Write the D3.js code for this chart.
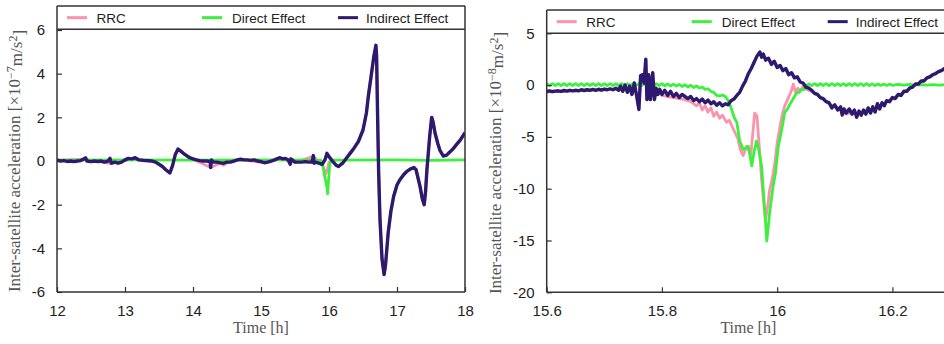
<!DOCTYPE html>
<html>
<head>
<meta charset="utf-8">
<script src="https://cdn.jsdelivr.net/npm/d3@7"></script>
<style>
  body { margin: 0; background: #fff; }
  svg { display: block; }
</style>
</head>
<body>
<svg id="chart" width="944" height="344"></svg>
<script>
// ---- data ----
const seriesNames = ["RRC", "Direct Effect", "Indirect Effect"];
const seriesColors = ["#fb93ac", "#3ef03e", "#2d1a6e"];

// left panel: 12h - 18h, units 1e-7 m/s^2
const leftTicksX = [12, 13, 14, 15, 16, 17, 18];
const leftTicksY = [-6, -4, -2, 0, 2, 4, 6];

const leftIndirect = [
  [12.00,0.05],[12.05,0.0],[12.10,0.02],[12.15,-0.02],[12.20,0.0],[12.25,-0.03],[12.30,0.0],[12.35,0.02],
  [12.40,0.1],[12.42,0.15],[12.44,0.0],[12.50,-0.03],[12.55,0.0],[12.60,-0.02],[12.65,0.0],[12.70,-0.05],
  [12.75,0.0],[12.78,0.12],[12.80,-0.1],[12.85,-0.05],[12.90,-0.1],[12.95,-0.05],[13.00,0.05],[13.05,0.12],
  [13.10,0.1],[13.15,0.15],[13.20,0.05],[13.30,0.02],[13.40,0.0],[13.45,-0.05],[13.50,-0.15],[13.55,-0.25],
  [13.60,-0.4],[13.66,-0.55],[13.70,-0.2],[13.74,0.3],[13.78,0.55],[13.82,0.45],[13.88,0.3],[13.95,0.15],
  [14.00,0.1],[14.05,0.05],[14.10,0.02],[14.15,0.0],[14.20,0.0],[14.25,-0.02],[14.26,-0.3],[14.27,0.05],
  [14.30,-0.05],[14.35,-0.05],[14.40,-0.08],[14.45,-0.1],[14.50,-0.05],[14.55,-0.05],[14.60,0.0],[14.65,0.05],
  [14.70,0.08],[14.75,0.05],[14.80,0.05],[14.85,0.03],[14.90,0.05],[14.95,0.0],[15.00,-0.03],[15.05,-0.08],
  [15.10,-0.05],[15.15,0.0],[15.20,0.05],[15.25,0.12],[15.28,0.15],[15.32,0.1],[15.36,0.12],[15.40,0.05],
  [15.43,-0.15],[15.44,0.1],[15.50,-0.05],[15.55,-0.05],[15.60,-0.05],[15.65,-0.03],[15.70,-0.05],[15.75,-0.05],
  [15.77,0.25],[15.78,-0.1],[15.80,-0.05],[15.85,-0.1],[15.90,-0.15],[15.94,0.05],[15.97,0.35],[16.00,0.2],
  [16.05,0.0],[16.10,-0.18],[16.14,-0.25],[16.20,-0.1],[16.25,0.1],[16.31,0.35],[16.37,0.6],[16.43,0.88],
  [16.50,1.42],[16.55,2.2],[16.58,3.0],[16.62,3.9],[16.66,4.8],[16.69,5.3],[16.70,4.8],[16.715,2.0],
  [16.73,-0.5],[16.75,-2.7],[16.78,-4.5],[16.81,-5.2],[16.83,-4.8],[16.87,-3.3],[16.91,-2.3],[16.95,-1.63],
  [17.00,-1.1],[17.04,-0.87],[17.10,-0.62],[17.14,-0.49],[17.20,-0.36],[17.25,-0.3],[17.28,-0.4],[17.34,-1.18],
  [17.37,-1.7],[17.40,-2.0],[17.42,-1.4],[17.44,-0.41],[17.48,1.11],[17.51,2.0],[17.53,1.8],[17.56,1.27],
  [17.60,0.8],[17.63,0.5],[17.68,0.23],[17.73,0.27],[17.78,0.42],[17.83,0.58],[17.88,0.77],[17.93,0.96],[18.00,1.3]
];

const leftDirect = [
  [12.00,0.04],[13.00,0.05],[14.00,0.04],[15.00,0.05],[15.88,0.04],[15.91,-0.2],[15.93,-0.6],[15.95,-0.9],
  [15.97,-1.2],[15.98,-1.5],[15.995,-0.8],[16.01,-0.2],[16.03,0.04],[17.00,0.05],[17.50,0.03],[18.00,0.05]
];

const leftRRC = [
  [12.00,0.03],[12.40,0.08],[12.80,-0.12],[13.15,0.12],[13.45,-0.05],[13.50,-0.15],[13.55,-0.25],[13.60,-0.4],
  [13.66,-0.55],[13.70,-0.2],[13.74,0.3],[13.78,0.55],[13.82,0.45],[13.88,0.3],[14.00,0.08],
  [14.26,-0.3],[14.40,-0.1],[14.45,-0.2],[14.50,-0.08],[14.70,0.06],[15.05,-0.08],[15.28,0.12],[15.50,-0.06],
  [15.77,0.22],[15.88,-0.12],[15.92,-0.3],[15.95,-0.6],[15.97,-0.45],[16.00,-0.05],[16.05,0.0],
  [16.10,-0.18],[16.14,-0.25],[16.20,-0.1],[16.25,0.1],[16.31,0.35],[16.37,0.6],[16.43,0.88],
  [16.50,1.42],[16.55,2.2],[16.58,3.0],[16.62,3.9],[16.66,4.8],[16.69,5.3],[16.70,4.8],[16.715,2.0],
  [16.73,-0.5],[16.75,-2.7],[16.78,-4.5],[16.81,-5.2],[16.83,-4.8],[16.87,-3.3],[16.91,-2.3],[16.95,-1.63],
  [17.00,-1.1],[17.04,-0.87],[17.10,-0.62],[17.14,-0.49],[17.20,-0.36],[17.25,-0.3],[17.28,-0.4],[17.34,-1.18],
  [17.37,-1.7],[17.40,-2.0],[17.42,-1.4],[17.44,-0.41],[17.48,1.11],[17.51,2.0],[17.53,1.8],[17.56,1.27],
  [17.60,0.8],[17.63,0.5],[17.68,0.23],[17.73,0.27],[17.78,0.42],[17.83,0.58],[17.88,0.77],[17.93,0.96],[18.00,1.3]
];

// right panel: 15.6h - 16.3h, units 1e-8 m/s^2
const rightTicksX = [15.6, 15.8, 16, 16.2];
const rightTicksY = [-20, -15, -10, -5, 0, 5];

const rightIndirect = [
  [15.600,-0.60],[15.605,-0.55],[15.610,-0.62],[15.615,-0.58],[15.620,-0.55],[15.625,-0.60],[15.630,-0.52],
  [15.635,-0.58],[15.640,-0.50],[15.645,-0.56],[15.650,-0.50],[15.655,-0.55],[15.660,-0.45],[15.665,-0.52],
  [15.670,-0.45],[15.675,-0.50],[15.680,-0.42],[15.685,-0.50],[15.690,-0.40],[15.695,-0.48],[15.700,-0.38],
  [15.705,-0.45],[15.710,-0.35],[15.715,-0.45],[15.720,-0.30],[15.725,-0.50],[15.728,-0.10],[15.732,-0.60],
  [15.736,0.00],[15.740,-0.70],[15.744,-0.10],[15.748,-0.90],[15.752,0.20],[15.756,-1.00],[15.760,-2.35],
  [15.763,0.90],[15.766,1.00],[15.769,0.20],[15.772,2.50],[15.774,-1.40],[15.777,1.00],[15.780,-1.40],
  [15.784,1.20],[15.787,-1.40],[15.790,-0.30],[15.793,-0.90],[15.796,-0.40],[15.800,-0.90],[15.805,-0.50],
  [15.810,-1.00],[15.815,-0.60],[15.820,-1.10],[15.825,-0.80],[15.830,-1.20],[15.835,-0.90],[15.840,-1.10],
  [15.845,-1.30],[15.850,-1.10],[15.855,-1.50],[15.860,-1.30],[15.865,-1.60],[15.870,-1.35],[15.875,-1.70],
  [15.880,-1.45],[15.885,-1.80],[15.890,-1.60],[15.895,-1.95],[15.900,-1.70],[15.905,-2.00],[15.910,-1.80],
  [15.915,-1.90],[15.920,-1.50],[15.925,-1.35],[15.930,-1.00],[15.935,-0.70],[15.940,-0.10],[15.945,0.40],
  [15.950,1.10],[15.955,1.60],[15.960,2.20],[15.965,2.80],[15.970,3.20],[15.973,2.70],[15.976,3.00],
  [15.980,2.40],[15.985,2.60],[15.990,2.00],[15.995,2.30],[16.000,1.70],[16.005,1.90],[16.010,1.40],
  [16.015,1.60],[16.020,1.00],[16.025,1.20],[16.030,0.70],[16.035,0.80],[16.040,0.30],[16.045,0.20],
  [16.050,-0.20],[16.055,-0.30],[16.060,-0.50],[16.065,-0.80],[16.070,-0.90],[16.075,-1.20],[16.080,-1.30],
  [16.085,-1.60],[16.090,-1.70],[16.095,-2.20],[16.100,-1.90],[16.105,-2.40],[16.110,-2.10],[16.113,-2.90],
  [16.116,-2.30],[16.120,-2.70],[16.125,-2.30],[16.130,-2.80],[16.134,-2.40],[16.138,-3.10],[16.142,-2.50],
  [16.146,-2.90],[16.150,-2.40],[16.154,-2.80],[16.158,-2.20],[16.162,-2.70],[16.166,-2.10],[16.170,-2.60],
  [16.174,-1.80],[16.178,-2.30],[16.182,-1.70],[16.186,-2.00],[16.190,-1.50],[16.195,-1.60],[16.200,-1.20],
  [16.205,-1.30],[16.210,-0.90],[16.215,-1.00],[16.220,-0.60],[16.225,-0.60],[16.230,-0.30],[16.235,-0.20],
  [16.240,0.10],[16.245,0.10],[16.250,0.40],[16.255,0.40],[16.260,0.70],[16.265,0.80],[16.270,1.00],
  [16.275,1.10],[16.280,1.30],[16.285,1.40],[16.290,1.60],[16.295,1.60],[16.300,1.80]
];

const rightRRC = [
  [15.600,-0.68],[15.620,-0.62],[15.640,-0.56],[15.660,-0.52],[15.680,-0.48],[15.700,-0.45],[15.720,-0.38],
  [15.725,-0.50],[15.728,-0.10],[15.732,-0.60],[15.736,0.00],[15.740,-0.70],[15.744,-0.10],[15.748,-0.90],
  [15.752,0.20],[15.756,-1.00],[15.760,-2.30],[15.763,0.90],[15.766,1.00],[15.769,0.20],[15.772,2.40],
  [15.774,-1.40],[15.777,1.00],[15.780,-1.40],[15.784,1.20],[15.787,-1.40],[15.790,-0.40],[15.800,-1.00],
  [15.810,-1.10],[15.820,-1.20],[15.830,-1.30],[15.840,-1.40],[15.850,-1.60],[15.860,-2.00],[15.865,-1.70],
  [15.870,-2.40],[15.875,-2.00],[15.880,-2.60],[15.885,-2.20],[15.890,-3.00],[15.895,-2.60],[15.900,-3.20],
  [15.905,-2.90],[15.912,-3.60],[15.917,-3.40],[15.921,-3.90],[15.927,-4.60],[15.932,-5.20],[15.936,-6.20],
  [15.941,-6.80],[15.947,-5.90],[15.950,-6.20],[15.954,-6.85],[15.958,-4.50],[15.961,-2.70],[15.965,-3.00],
  [15.969,-6.00],[15.973,-9.10],[15.977,-11.50],[15.980,-12.96],[15.984,-11.50],[15.987,-10.10],[15.991,-9.20],
  [15.996,-7.50],[16.000,-5.60],[16.005,-3.96],[16.009,-2.80],[16.013,-2.03],[16.018,-1.40],[16.022,-0.90],
  [16.025,-0.50],[16.028,0.10],[16.032,-0.70],[16.036,-0.30],[16.040,-0.60],[16.045,-0.10],[16.050,-0.40],
  [16.060,-0.60],[16.070,-1.00],[16.080,-1.40],[16.090,-1.80],[16.100,-2.10],[16.110,-2.40],[16.120,-2.80],
  [16.130,-2.60],[16.140,-2.80],[16.150,-2.60],[16.160,-2.40],[16.170,-2.30],[16.180,-1.90],[16.190,-1.60],
  [16.200,-1.30],[16.210,-1.00],[16.220,-0.70],[16.230,-0.30],[16.240,0.00],[16.250,0.30],[16.260,0.70],
  [16.270,1.00],[16.280,1.30],[16.290,1.50],[16.300,1.80]
];

const rightDirect = [
  [15.600,0.14],[15.605,-0.04],[15.610,0.14],[15.615,-0.04],[15.620,0.14],[15.625,-0.04],[15.630,0.14],
  [15.635,-0.04],[15.640,0.14],[15.645,-0.04],[15.650,0.14],[15.655,-0.04],[15.660,0.14],[15.665,-0.04],
  [15.670,0.14],[15.675,-0.04],[15.680,0.14],[15.685,-0.04],[15.690,0.14],[15.695,-0.04],[15.700,0.14],
  [15.705,-0.04],[15.710,0.14],[15.715,-0.04],[15.720,0.14],[15.725,-0.04],[15.730,0.14],[15.735,-0.04],
  [15.740,0.14],[15.745,-0.04],[15.750,0.14],[15.755,-0.04],[15.760,0.14],[15.765,-0.04],[15.770,0.14],
  [15.775,-0.04],[15.780,0.14],[15.785,-0.04],[15.790,0.14],[15.795,-0.04],[15.800,0.13],[15.805,-0.06],
  [15.810,0.11],[15.815,-0.08],[15.820,0.09],[15.825,-0.10],[15.830,0.07],[15.835,-0.13],[15.840,0.03],
  [15.845,-0.18],[15.850,-0.02],[15.855,-0.23],[15.860,-0.08],[15.865,-0.28],[15.870,-0.20],[15.875,-0.42],
  [15.880,-0.35],[15.885,-0.60],[15.890,-0.70],[15.895,-1.00],[15.900,-1.05],[15.905,-0.95],[15.910,-1.10],
  [15.915,-1.50],[15.918,-1.90],[15.921,-2.35],[15.926,-3.20],[15.930,-3.60],[15.935,-5.40],[15.941,-6.20],
  [15.945,-6.10],[15.950,-5.90],[15.956,-7.80],[15.960,-6.40],[15.964,-5.40],[15.968,-6.20],[15.973,-7.80],
  [15.977,-11.00],[15.982,-15.06],[15.987,-12.30],[15.993,-9.75],[15.997,-8.50],[16.002,-5.90],[16.008,-4.30],
  [16.013,-2.67],[16.018,-2.30],[16.022,-1.86],[16.028,-1.30],[16.034,-0.74],[16.038,-0.70],[16.042,-0.40],
  [16.046,-0.45],[16.050,-0.10],[16.055,0.12],[16.060,-0.04],[16.065,0.14],[16.070,-0.04],[16.075,0.14],
  [16.080,-0.04],[16.085,0.14],[16.090,-0.04],[16.095,0.14],[16.100,-0.04],[16.105,0.14],[16.110,-0.04],
  [16.115,0.14],[16.120,-0.04],[16.125,0.14],[16.130,-0.04],[16.135,0.14],[16.140,-0.04],[16.145,0.14],
  [16.150,-0.04],[16.155,0.14],[16.160,-0.04],[16.165,0.12],[16.170,-0.04],[16.175,0.11],[16.180,-0.03],
  [16.185,0.10],[16.190,-0.03],[16.195,0.09],[16.200,-0.02],[16.210,0.08],[16.220,-0.01],[16.230,0.06],
  [16.240,0.00],[16.250,0.05],[16.260,0.00],[16.270,0.04],[16.280,0.00],[16.290,0.03],[16.300,0.02]
];

// ---- drawing ----
const svg = d3.select("#chart");
const axisColor = "#333";
const tickFont = "'Liberation Sans', Arial, sans-serif";
const serifFont = "'Liberation Serif', 'DejaVu Serif', serif";

function drawPanel(p) {
  const x = d3.scaleLinear().domain(p.xDomain).range(p.xRange);
  const y = d3.scaleLinear().domain(p.yDomain).range(p.yRange);
  const g = svg.append("g");

  const clipId = "clip-" + p.id;
  svg.append("clipPath").attr("id", clipId)
    .append("rect")
    .attr("x", p.xRange[0]).attr("y", p.yRange[1])
    .attr("width", Math.min(944, p.xRange[1]) - p.xRange[0])
    .attr("height", p.yRange[0] - p.yRange[1]);

  // lines: RRC, Direct, Indirect (indirect on top)
  const line = d3.line().x(d => x(d[0])).y(d => y(d[1]));
  const lines = g.append("g").attr("clip-path", `url(#${clipId})`);
  p.series.forEach((s, i) => {
    lines.append("path")
      .datum(s)
      .attr("fill", "none")
      .attr("stroke", seriesColors[i])
      .attr("stroke-width", i === 2 ? 3.4 : 2.8)
      .attr("stroke-linejoin", "round")
      .attr("d", line);
  });

  // axes
  const xAxis = g.append("g")
    .attr("transform", `translate(0,${p.yRange[0]})`)
    .call(d3.axisBottom(x).tickValues(p.xTicks).tickSize(-5).tickPadding(13));
  const yAxis = g.append("g")
    .attr("transform", `translate(${p.xRange[0]},0)`)
    .call(d3.axisLeft(y).tickValues(p.yTicks).tickSize(-5).tickPadding(12));
  [xAxis, yAxis].forEach(a => {
    a.select(".domain").remove();
    a.selectAll(".tick line").attr("stroke", axisColor).attr("stroke-width", 1.2);
    a.selectAll(".tick text")
      .attr("fill", "#222")
      .style("font-family", tickFont)
      .style("font-size", "15px")
      .text(d => String(d));
  });

  // frame
  const right = p.xRange[1];
  const top = p.yRange[1];
  const frame = g.append("g").attr("stroke", axisColor).attr("stroke-width", 1.5).attr("fill", "none");
  frame.append("line").attr("x1", p.xRange[0]).attr("x2", p.xRange[0]).attr("y1", top).attr("y2", p.yRange[0]);
  frame.append("line").attr("x1", p.xRange[0]).attr("x2", right).attr("y1", p.yRange[0]).attr("y2", p.yRange[0]);
  frame.append("line").attr("x1", p.xRange[0]).attr("x2", right).attr("y1", top).attr("y2", top);
  frame.append("line").attr("x1", p.xRange[0]).attr("x2", right).attr("y1", p.legendBottom).attr("y2", p.legendBottom);
  if (right < 944) {
    frame.append("line").attr("x1", right).attr("x2", right).attr("y1", top).attr("y2", p.yRange[0]);
  }

  // legend
  const ly = (top + p.legendBottom) / 2;
  const sampleOffsets = [10, 145, 281];
  const textOffsets = [39.5, 175, 309];
  seriesNames.forEach((name, i) => {
    g.append("line")
      .attr("x1", p.xRange[0] + sampleOffsets[i]).attr("x2", p.xRange[0] + sampleOffsets[i] + 20)
      .attr("y1", ly).attr("y2", ly)
      .attr("stroke", seriesColors[i]).attr("stroke-width", 3);
    g.append("text")
      .attr("x", p.xRange[0] + textOffsets[i]).attr("y", ly).attr("dy", "0.36em")
      .style("font-family", tickFont).style("font-size", "13.5px").attr("fill", "#222")
      .text(name);
  });

  // axis titles
  g.append("text")
    .attr("x", (p.xRange[0] + p.xRange[1]) / 2).attr("y", 333)
    .attr("text-anchor", "middle")
    .style("font-family", serifFont).style("font-size", "16px").attr("fill", "#555")
    .text("Time [h]");

  const yt = g.append("text")
    .attr("transform", `translate(${p.yLabelX},${p.yLabelY}) rotate(-90)`)
    .attr("text-anchor", "middle")
    .style("font-family", serifFont).style("font-size", "17px").attr("fill", "#555");
  yt.append("tspan").text("Inter-satellite acceleration [×10");
  yt.append("tspan").attr("dy", "-0.45em").style("font-size", "12px").text("−" + p.exponent);
  yt.append("tspan").attr("dy", "0.45em").text("m/s");
  yt.append("tspan").attr("dy", "-0.45em").style("font-size", "12px").text("2");
  yt.append("tspan").attr("dy", "0.45em").text("]");
}

drawPanel({
  id: "left",
  xDomain: [12, 18], xRange: [57, 465],
  yDomain: [-6, 7.1], yRange: [292, 6],
  legendBottom: 29.3,
  xTicks: leftTicksX, yTicks: leftTicksY,
  series: [leftRRC, leftDirect, leftIndirect],
  exponent: "7",
  yLabelX: 20, yLabelY: 161
});

drawPanel({
  id: "right",
  xDomain: [15.6, 16.3], xRange: [546.7, 950],
  yDomain: [-20, 7.25], yRange: [292.3, 10],
  legendBottom: 33.3,
  xTicks: rightTicksX, yTicks: rightTicksY,
  series: [rightRRC, rightDirect, rightIndirect],
  exponent: "8",
  yLabelX: 501, yLabelY: 163
});
</script>
</body>
</html>
